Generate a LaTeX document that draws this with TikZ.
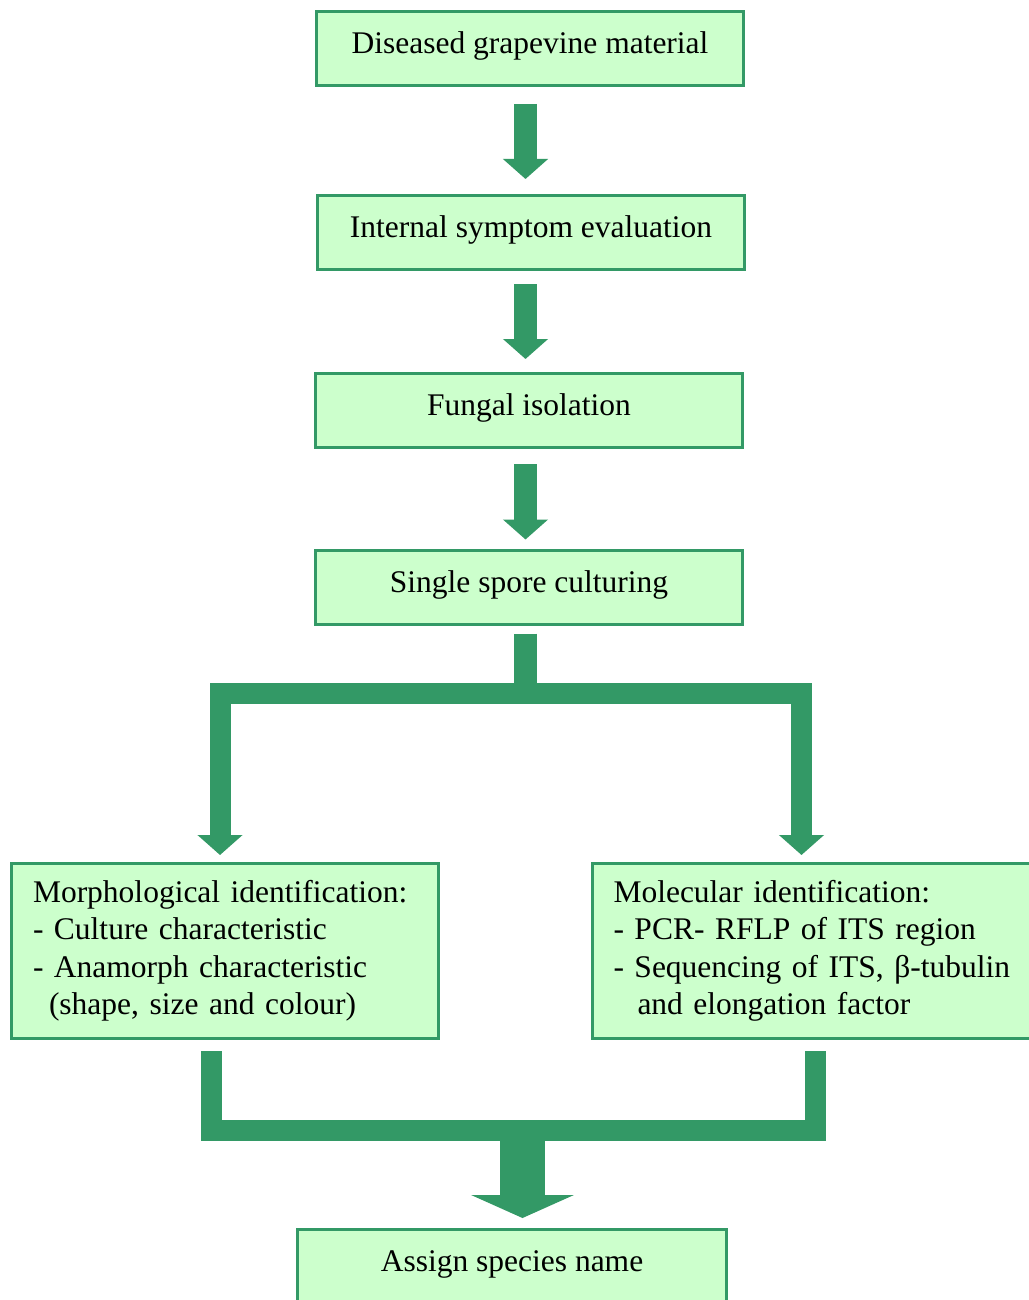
\documentclass[tikz,border=0pt]{standalone}
\usepackage{fontspec}
\setmainfont{Liberation Serif}
\usetikzlibrary{arrows.meta,calc}
\definecolor{arrowgreen}{HTML}{339966}
\definecolor{boxfill}{HTML}{CCFFCC}
\begin{document}
\begin{tikzpicture}[x=1pt,y=-1pt,
  boxfont/.style={font=\fontsize{31.5}{37.5}\selectfont},
  stepbox/.style={draw=arrowgreen, fill=boxfill, line width=3pt, inner xsep=0pt, inner ysep=0pt,
    minimum width=427pt, text height=42pt, text depth=32pt, boxfont},
  listbox/.style={draw=arrowgreen, fill=boxfill, line width=3pt, inner xsep=21.5pt, inner ysep=0pt,
    minimum height=175pt, align=left, boxfont},
  flow/.style={draw=arrowgreen, line width=23pt, -{Triangle[length=20pt,width=44pt]}},
  fork/.style={draw=arrowgreen, line width=21pt, line join=miter},
  forkarrow/.style={fork, {Triangle[length=20pt,width=44pt]}-{Triangle[length=20pt,width=44pt]}},
  mergearrow/.style={draw=arrowgreen, line width=45pt, -{Triangle[length=23pt,width=102pt]}}
]
\useasboundingbox (0,0) rectangle (1028,1300);
\fill[white] (0,0) rectangle (1028,1300);

\node[stepbox] (n1) at (530,48.5) {Diseased grapevine material};
\node[stepbox] (n2) at (531,232.5) {Internal symptom evaluation};
\node[stepbox] (n3) at (529,410.5) {Fungal isolation};
\node[stepbox] (n4) at (529,587) {Single spore culturing};
\node[listbox, text width=384pt] (morph) at (225,951) {Morphological identification:\\- Culture characteristic\\- Anamorph characteristic\\\hspace*{16pt}(shape, size and colour)};
\node[listbox, text width=403pt] (mol) at (815,951) {Molecular identification:\\- PCR- RFLP of ITS region\\- Sequencing of ITS, β-tubulin\\\hspace*{24pt}and elongation factor};
\node[stepbox, minimum width=429pt] (final) at (512,1266.5) {Assign species name};

\coordinate (ax) at (525.5,0);
\coordinate (split) at (525.5,693);
\coordinate (lx) at (220,0);
\coordinate (rx) at (801.5,0);
\coordinate (mlx) at (211.5,0);
\coordinate (mrx) at (815.5,0);
\coordinate (join) at (522.5,1130);

\draw[flow] ($(n1.south -| ax)+(0,17)$) -- ($(n2.north -| ax)+(0,-15)$);
\draw[flow] ($(n2.south -| ax)+(0,13)$) -- ($(n3.north -| ax)+(0,-13)$);
\draw[flow] ($(n3.south -| ax)+(0,15)$) -- ($(n4.north -| ax)+(0,-9)$);

\draw[fork, line width=23pt] ($(n4.south -| ax)+(0,8)$) -- (split);
\draw[forkarrow] ($(morph.north -| lx)+(0,-7)$) |- (split) -| ($(mol.north -| rx)+(0,-7)$);

\draw[fork] ($(morph.south -| mlx)+(0,11)$) |- (join) -| ($(mol.south -| mrx)+(0,11)$);
\draw[mergearrow] (join) -- ($(final.north)+(10.5,-10)$);
\end{tikzpicture}
\end{document}
